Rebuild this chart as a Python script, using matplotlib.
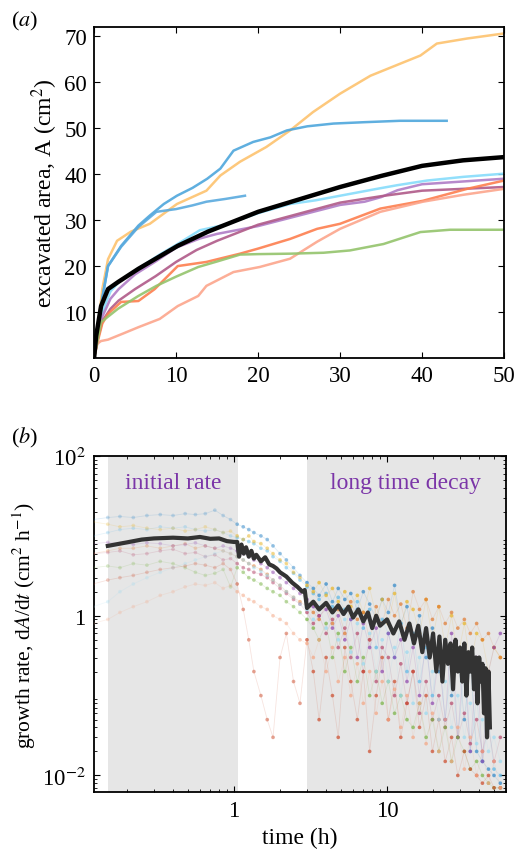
import matplotlib
matplotlib.use('Agg')
import matplotlib.pyplot as plt
import numpy as np
from matplotlib.colors import to_rgba

plt.rcParams['font.family'] = ['Liberation Serif', 'DejaVu Serif']
plt.rcParams['mathtext.fontset'] = 'stix'

# ---- panel (a): excavated area vs time ----
a_curves = {
    'orange': ([0, 0.5, 1, 1.7, 2.8, 4.5, 6.8, 10.1, 13.7, 15.4, 17.8, 21, 23.9, 26.7, 30, 33.7, 37.3, 39.8, 41.8, 45.5, 50],
               [0, 7, 15, 21.5, 25.5, 27.5, 29.2, 33.5, 36.4, 39.7, 42.7, 45.9, 49.5, 53.5, 57.5, 61.4, 64, 65.8, 68.4, 69.5, 70.6]),
    'blue_long': ([0, 0.5, 1, 1.7, 3.3, 5.4, 6.8, 8.5, 10.1, 12, 13.8, 15.4, 17, 19.4, 21.5, 23.5, 26, 29.2, 33, 37.3, 43],
                  [0, 6, 13, 20, 24.4, 28.8, 31, 33.5, 35.3, 37, 39, 41.2, 45.1, 47, 48, 49.5, 50.4, 51, 51.3, 51.6, 51.6]),
    'blue_short': ([0, 0.5, 1, 1.7, 3.3, 5.4, 7.6, 10, 12, 13.7, 16, 18.4],
                   [0, 6, 13, 20, 24.2, 28.5, 31.8, 32.4, 33.2, 34, 34.6, 35.3]),
    'cyan': ([0, 0.5, 1, 2, 3, 5, 8, 10, 12.9, 16, 20, 23.9, 27, 30, 34.5, 37, 40.6, 45, 50],
             [0, 5, 10, 14.5, 16.5, 19, 22.5, 24.6, 27.8, 29.0, 31.5, 33.5, 34.3, 35.3, 36.8, 37.6, 38.6, 39.4, 40.1]),
    'purple': ([0, 0.5, 1, 2, 3, 5, 7.5, 10, 12.9, 15, 20, 25, 30, 33, 35, 37, 40, 45, 50],
               [0, 5, 9, 12.9, 15, 18.2, 21, 24, 26, 27, 28.7, 31, 33.3, 34, 35, 36.5, 37.8, 38.4, 39]),
    'maroon': ([0, 0.5, 1, 2, 3, 5, 7.5, 10, 12.5, 15, 20, 25, 30, 35, 40, 45, 50],
               [0, 4.5, 8, 10.7, 12.5, 15, 17.8, 20.9, 23.5, 25.5, 29, 31.4, 33.8, 35.2, 36.4, 36.8, 37.2]),
    'red': ([0, 0.5, 1, 1.7, 3.3, 5.4, 7.4, 10.2, 13.7, 17.8, 20, 23.9, 27.2, 30, 34.9, 40.1, 45.5, 50],
            [0, 4, 7.5, 9.6, 12.2, 12.4, 15, 20, 20.9, 22.7, 23.8, 25.9, 28.1, 29.2, 32.5, 34.2, 36.8, 38.6]),
    'salmon': ([0, 0.3, 0.85, 1.7, 3.5, 5.4, 8, 10.2, 12.7, 13.7, 17, 20.2, 23.9, 27.2, 30, 34.9, 40.1, 45, 50],
               [0, 3, 3.7, 4, 5.3, 6.7, 8.5, 11.3, 13.5, 15.7, 18.7, 19.8, 21.6, 25.3, 28.1, 31.8, 34, 35.5, 36.8]),
    'green': ([0, 0.85, 2.9, 5.4, 7.6, 10, 12.7, 15, 17.8, 20, 24, 28, 31.2, 35.3, 39.8, 43.4, 50],
              [0, 7.8, 10.7, 13.5, 15.7, 17.7, 19.8, 21, 22.5, 22.6, 22.7, 22.9, 23.4, 24.8, 27.4, 27.9, 27.9]),
}
a_colors = {
    'orange': '#fdc26e', 'blue_long': '#4ea6dc', 'blue_short': '#5aaade',
    'cyan': '#86dcfb', 'purple': '#b07cc6', 'maroon': '#b05a88',
    'red': '#fd7f4f', 'salmon': '#fca58c', 'green': '#94c46c',
}
mean_t = [0, 0.25, 0.85, 1.7, 2.9, 5.4, 10.2, 13.9, 20, 25, 30, 35, 40, 45, 50]
mean_A = [0, 4.8, 11.3, 15, 16.5, 19.4, 24.4, 27.5, 31.8, 34.5, 37.2, 39.6, 41.8, 43, 43.7]

# ---- panel (b): growth rate vs time ----
b_time = [0.12, 0.15, 0.18, 0.22, 0.27, 0.33, 0.4, 0.48, 0.56, 0.65, 0.75, 0.85, 0.95, 1.05,
          1.15, 1.25, 1.35, 1.5, 1.65, 1.8, 2.0, 2.2, 2.45, 2.7, 3.0, 3.3, 3.6, 4.0, 4.4, 4.8,
          5.3, 5.8, 6.4, 7.0, 7.7, 8.5, 9.3, 10.2, 11.2, 12.3, 13.5, 14.8, 16.3, 18, 19.8,
          21.8, 24, 26.4, 29, 32, 35, 38.5, 42, 46, 50, 55]
b_rates = {
    'blue': [16, 17, 17.5, 17, 18, 18.5, 18, 19, 18.5, 19, 21, 18, 16, 14, 13, 12, 11, 10, 9, 7.5,
             6, 5, 4, 3.2, 2.6, 2.2, 1.8, 2.5, 1.5, 2.2, 1.6, 1.9, 1.2, 2.0, 1.4, 0.9, 1.6, 1.1,
             2.4, 0.8, 1.3, 0.5, 1.0, 0.3, 0.7, 0.2, 0.5, 0.1, 0.3, 0.05, 0.25, 0.02, 0.015, 0.012, 0.01, 0.008],
    'lightblue': [10, 11, 12, 12.5, 12, 13, 12.5, 13, 12, 11.5, 12, 11, 10, 9.5, 9, 8.5, 8, 7, 6.5,
                  5.5, 4.8, 4, 3.4, 2.8, 2.3, 1.9, 1.6, 1.9, 1.3, 1.7, 1.2, 0.9, 1.5, 0.7, 1.2, 0.4,
                  0.9, 0.6, 0.3, 0.8, 0.2, 0.6, 0.15, 0.4, 0.1, 0.35, 0.05, 0.25, 0.03, 0.2, 0.02,
                  0.1, 0.015, 0.05, 0.012, 0.01],
    'gold': [15, 14, 13, 13.5, 12.5, 12, 12.5, 11.5, 12, 13, 12, 11, 11.5, 10, 9, 10, 8.5, 8, 7, 6,
             5, 4.5, 3.5, 3, 2.4, 2.0, 2.6, 1.8, 2.2, 1.5, 2.0, 1.3, 1.8, 1.1, 2.2, 1.0, 1.6, 0.8,
             1.9, 0.7, 1.5, 1.2, 0.6, 1.6, 0.5, 1.3, 0.4, 1.0, 0.3, 0.8, 0.25, 0.6, 0.5, 0.2, 0.4, 0.3],
    'orange': [6, 6.5, 7, 7, 7.5, 7, 7.5, 8, 7, 7.5, 7, 6.5, 6, 5.5, 5, 4.5, 4.2, 3.8, 3.3, 2.8,
               2.4, 2.0, 1.7, 1.5, 1.3, 1.1, 0.9, 1.4, 0.8, 1.2, 0.6, 1.5, 0.9, 1.1, 0.5, 1.3, 0.8,
               1.6, 1.0, 1.4, 0.7, 2.0, 1.2, 1.6, 0.9, 1.3, 0.8, 1.1, 0.7, 0.9, 0.6, 0.8, 0.5, 0.6, 0.4, 0.3],
    'purple': [8, 8.3, 8, 7.8, 8.2, 8, 7.5, 7.8, 8.2, 7.5, 7, 7.5, 7, 6.5, 6, 5.5, 5, 4.5, 4, 3.5,
               3.0, 2.6, 2.2, 1.9, 1.6, 1.3, 1.0, 1.2, 0.7, 1.0, 0.5, 0.9, 0.3, 0.8, 0.4, 0.7, 0.2,
               0.6, 0.3, 0.5, 0.15, 0.4, 0.1, 0.5, 0.08, 0.3, 0.05, 0.6, 0.03, 0.4, 0.02, 0.3, 0.015,
               0.2, 0.4, 0.6],
    'maroon': [6, 6.2, 6.5, 5.8, 6, 6.5, 6.8, 6, 6.2, 5.5, 5.8, 5, 5.2, 4.5, 4, 3.8, 3.5, 3.3, 3,
               2.6, 2.2, 1.9, 1.6, 1.4, 1.1, 0.8, 1.0, 0.6, 0.9, 0.4, 0.7, 0.3, 0.6, 0.2, 0.5, 0.15,
               0.4, 0.3, 0.1, 0.25, 0.08, 0.2, 0.06, 0.15, 0.05, 0.1, 0.04, 0.08, 0.03, 0.06, 0.025,
               0.05, 0.02, 0.04, 0.015, 0.03],
    'green': [4, 4.2, 4, 4.5, 4.3, 4.8, 4.5, 4, 3.5, 3.2, 3.4, 3.8, 2.3, 4, 3.5, 3, 2.8, 2.5, 2.2, 2,
              1.8, 1.5, 1.3, 1.1, 0.9, 0.7, 0.5, 0.8, 0.3, 0.6, 0.2, 0.4, 0.15, 0.3, 0.1, 0.2, 0.08,
              0.15, 0.06, 0.1, 0.05, 0.04, 0.08, 0.03, 0.05, 0.02, 0.04, 0.015, 0.03, 0.02, 0.012,
              0.015, 0.01, 0.008, 0.007, 0.007],
    'brick': [2.5, 2.8, 3, 3.2, 3.5, 3.8, 4, 4.2, 4.5, 4.3, 4, 4.5, 3.8, 2.5, 1.2, 0.5, 0.2, 0.1,
              0.05, 0.03, 0.3, 0.6, 0.15, 0.08, 0.5, 0.2, 0.05, 0.3, 0.1, 0.03, 0.4, 0.15, 0.05,
              0.2, 0.02, 0.1, 0.3, 0.05, 0.15, 0.03, 0.08, 0.2, 0.04, 0.1, 0.02, 0.05, 0.015, 0.03,
              0.01, 0.02, 0.012, 0.01, 0.008, 0.01, 0.007, 0.007],
    'salmon': [0.8, 0.9, 1.1, 1.3, 1.5, 1.8, 2, 2.3, 2.5, 2.4, 2.6, 2.2, 2.4, 2.0, 1.8, 1.6, 1.5,
               1.3, 1.2, 1.0, 0.9, 0.8, 0.6, 0.5, 0.45, 0.3, 0.5, 0.2, 0.4, 0.15, 0.3, 0.1, 0.25,
               0.08, 0.2, 0.06, 0.15, 0.05, 0.12, 0.04, 0.1, 0.03, 0.08, 0.025, 0.06, 0.02, 0.05,
               0.015, 0.04, 0.012, 0.03, 0.01, 0.02, 0.008, 0.015, 0.007],
    'cyan': [1.3, 1.5, 2, 2.5, 3, 3.5, 4, 4.5, 5, 5.5, 6, 6.5, 6, 5.5, 5, 4.5, 4, 3.6, 3.2, 2.8, 2.4,
             2, 1.7, 1.4, 1.2, 0.9, 1.3, 0.7, 1.1, 0.5, 0.9, 0.35, 0.8, 0.25, 0.6, 0.2, 0.5, 0.15,
             0.4, 0.1, 0.35, 0.08, 0.3, 0.06, 0.2, 0.05, 0.15, 0.04, 0.1, 0.03, 0.08, 0.025, 0.05,
             0.02, 0.03, 0.015],
}
b_colors = {
    'blue': '#2f87c8', 'lightblue': '#5bb8e6', 'gold': '#e8b425', 'orange': '#e07a30',
    'purple': '#8e44ad', 'maroon': '#b5476b', 'green': '#79b345', 'brick': '#cc4a2a',
    'salmon': '#f4a582', 'cyan': '#9ad9f0',
}
mean_rate_t = [0.15, 0.2, 0.25, 0.3, 0.4, 0.5, 0.6, 0.7, 0.8, 0.9, 1.0, 1.05, 1.08, 1.12, 1.16, 1.2,
               1.25, 1.3, 1.35, 1.4, 1.5, 1.6, 1.7, 1.8, 1.9, 2.0, 2.2, 2.4, 2.6, 2.8, 2.9, 3.0, 3.3,
               3.6, 4.0, 4.4, 4.8, 5.2, 5.6, 6.0, 6.5, 7.0, 7.5, 8.0, 8.5, 9.0, 10, 11, 12, 13, 14,
               15, 16, 17, 18, 19, 20, 21, 22, 23, 24, 25, 26, 27, 28, 29, 30, 31, 32, 33, 34, 35,
               36, 37, 38, 39, 40, 41, 42, 43, 44, 45, 46, 47]
mean_rate = [7.5, 8.3, 9.0, 9.3, 9.5, 9.3, 9.7, 9.2, 9.3, 8.6, 8.4, 8.4, 5.5, 7.8, 6.0, 7.2, 5.5,
             6.5, 5.2, 5.8, 4.8, 5.4, 4.4, 4.2, 3.9, 3.5, 3.1, 2.6, 2.3, 2.0, 2.1, 1.25, 1.5, 1.2,
             1.45, 1.1, 1.35, 1.05, 1.3, 0.95, 1.2, 0.85, 1.1, 0.7, 1.0, 0.75, 0.9, 0.6, 0.85, 0.5,
             0.8, 0.45, 0.75, 0.35, 0.7, 0.3, 0.6, 0.2, 0.55, 0.15, 0.5, 0.25, 0.45, 0.12, 0.5, 0.2,
             0.4, 0.15, 0.45, 0.1, 0.35, 0.2, 0.4, 0.12, 0.3, 0.08, 0.3, 0.15, 0.25, 0.06, 0.22,
             0.03, 0.2, 0.04]

fig = plt.figure(figsize=(5.17, 8.54), dpi=100)

# ---------- (a) ----------
ax1 = fig.add_axes([0.182, 0.5796, 0.793, 0.3876])
for name, (t, A) in a_curves.items():
    ax1.plot(t, A, color=a_colors[name], lw=1.8, alpha=0.9)
ax1.plot(mean_t, mean_A, color='black', lw=3.2, zorder=5)
ax1.set_xlim(0, 50)
ax1.set_ylim(0, 72)
ax1.set_xticks([0, 10, 20, 30, 40, 50])
ax1.set_yticks([10, 20, 30, 40, 50, 60, 70])
ax1.tick_params(direction='in', top=True, right=True, labelsize=16.5, length=4, pad=5)
ax1.set_ylabel('excavated area, A (cm$^2$)', fontsize=17, labelpad=3)
for s in ax1.spines.values():
    s.set_linewidth(1.3)
fig.text(0.022, 0.975, '($a$)', fontsize=16, ha='left', va='center')

# ---------- (b) ----------
ax2 = fig.add_axes([0.182, 0.0714, 0.797, 0.3934])
ax2.axvspan(0.15, 1.06, color='#e6e6e6', zorder=0, lw=0)
ax2.axvspan(3.0, 60, color='#e6e6e6', zorder=0, lw=0)
tb = np.array(b_time)
alpha_pts = np.where(tb < 1.0, 0.25, np.where(tb < 3.0, 0.5, 0.7))
for name, r in b_rates.items():
    r = np.array(r, dtype=float)
    ax2.plot(tb, r, color=b_colors[name], lw=0.6, alpha=0.15, zorder=2)
    rgba = np.array([to_rgba(b_colors[name], a) for a in alpha_pts])
    ax2.scatter(tb, r, s=7, c=rgba, lw=0, zorder=3)
ax2.plot(mean_rate_t, mean_rate, color='#333333', lw=3.0, zorder=6)
ax2.set_xscale('log')
ax2.set_yscale('log')
ax2.set_xlim(0.122, 60)
ax2.set_ylim(0.0062, 100)
ax2.set_xticks([1, 10])
ax2.set_xticklabels(['1', '10'])
ax2.set_yticks([1e-2, 1, 1e2])
ax2.set_yticklabels(['10$^{-2}$', '1', '10$^2$'])
ax2.tick_params(which='both', direction='in', top=True, right=True)
ax2.tick_params(which='major', labelsize=16.5, length=4, pad=6)
ax2.tick_params(which='minor', length=2)
ax2.set_xlabel('time (h)', fontsize=17)
ax2.set_ylabel('growth rate, d$A$/d$t$ (cm$^2$ h$^{-1}$)', fontsize=15.5, labelpad=3)
for s in ax2.spines.values():
    s.set_linewidth(1.3)
ax2.text(0.40, 47, 'initial rate', color='#7b35a8', fontsize=17, ha='center', va='center')
ax2.text(13.2, 47, 'long time decay', color='#7b35a8', fontsize=17, ha='center', va='center')
fig.text(0.022, 0.487, '($b$)', fontsize=16, ha='left', va='center')

fig.savefig('out.png', dpi=100)
